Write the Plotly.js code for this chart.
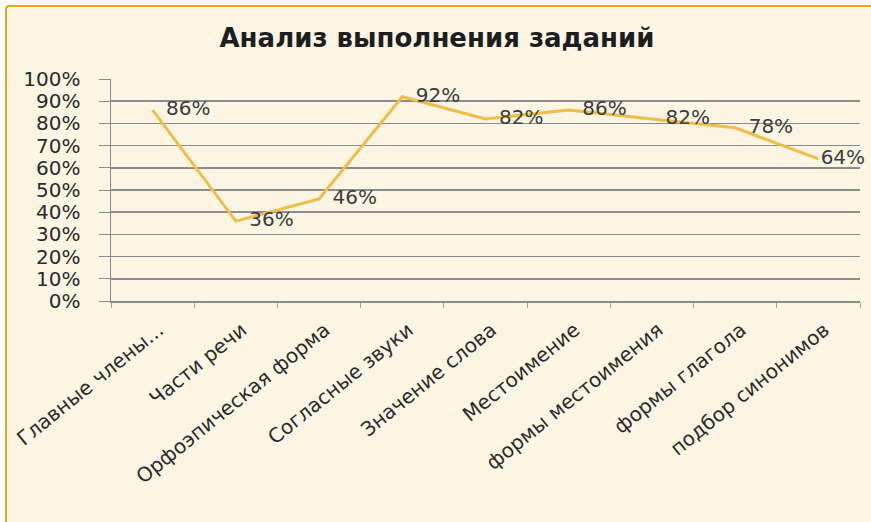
<!DOCTYPE html>
<html>
<head>
<meta charset="utf-8">
<script src="https://cdn.plot.ly/plotly-3.0.1.min.js"></script>
<style>
  html, body { margin: 0; padding: 0; background: #ffffff; width: 871px; height: 522px; overflow: hidden; }
  #frame { position: absolute; left: 5px; top: 5px; width: 866px; height: 517px; background: #FDF5E4;
           border-left: 2px solid #E3A922; border-top: 2px solid #E3A922; border-top-left-radius: 4px; box-sizing: border-box; }
  #chart { position: absolute; left: 7px; top: 7px; width: 864px; height: 515px; }
</style>
</head>
<body>
<div id="frame"></div>
<div id="chart"></div>
<script>
const categories = [
  "Главные члены...",
  "Части речи",
  "Орфоэпическая форма",
  "Согласные звуки",
  "Значение слова",
  "Местоимение",
  "формы местоимения",
  "формы глагола",
  "подбор синонимов"
];
const values = [0.86, 0.36, 0.46, 0.92, 0.82, 0.86, 0.82, 0.78, 0.64];
const yTickVals = [0, 0.1, 0.2, 0.3, 0.4, 0.5, 0.6, 0.7, 0.8, 0.9, 1.0];
const yTickText = ["0%", "10%", "20%", "30%", "40%", "50%", "60%", "70%", "80%", "90%", "100%"];
const titleText = "Анализ выполнения заданий";

const FONT = "DejaVu Sans, Verdana, sans-serif";

// invisible markers only set the gap between each point and its label
const labelGap = values.map((v, i) => (i === values.length - 1 ? 2 : 20));

const trace = {
  x: categories,
  y: values,
  type: "scatter",
  mode: "lines+markers+text",
  line: { color: "#F0BD48", width: 3 },
  marker: { size: labelGap, color: "rgba(0,0,0,0)", opacity: 0, line: { width: 0, color: "rgba(0,0,0,0)" } },
  text: values.map(v => Math.round(v * 100) + "%"),
  textposition: "middle right",
  textfont: { family: FONT, size: 20, color: "#3c3c3c" },
  cliponaxis: false,
  hoverinfo: "skip"
};

const layout = {
  width: 864,
  height: 515,
  paper_bgcolor: "rgba(0,0,0,0)",
  plot_bgcolor: "rgba(0,0,0,0)",
  margin: { l: 104, r: 11, t: 72, b: 221, pad: 0 },
  showlegend: false,
  title: {
    text: "<b>" + titleText + "</b>",
    font: { family: FONT, size: 26, color: "#1e1e1e" },
    xref: "container", x: 0.4977, xanchor: "center",
    yref: "container", y: 0.94, yanchor: "middle"
  },
  xaxis: {
    type: "category",
    tickmode: "array",
    tickvals: categories,
    ticktext: categories,
    tickangle: -39,
    tickson: "boundaries",
    ticks: "outside",
    ticklen: 5,
    tickcolor: "#a0a0a0",
    ticklabelstandoff: 8,
    ticklabelshift: 6,
    showline: true,
    linecolor: "#8c8c8c",
    linewidth: 1.5,
    showgrid: false,
    zeroline: false,
    automargin: false,
    tickfont: { family: FONT, size: 20, color: "#2a2a2a" },
    range: [-0.5, 8.5],
    fixedrange: true
  },
  yaxis: {
    range: [0, 1],
    tickmode: "array",
    tickvals: yTickVals,
    ticktext: yTickText,
    ticks: "outside",
    ticklen: 11,
    tickcolor: "#8c8c8c",
    ticklabelstandoff: 14,
    showline: true,
    linecolor: "#8c8c8c",
    linewidth: 1.5,
    showgrid: true,
    gridcolor: "#8c8c8c",
    gridwidth: 1.5,
    zeroline: false,
    automargin: false,
    tickfont: { family: FONT, size: 20, color: "#2a2a2a" },
    fixedrange: true
  }
};

Plotly.newPlot("chart", [trace], layout, { displayModeBar: false, staticPlot: true });
</script>
</body>
</html>
